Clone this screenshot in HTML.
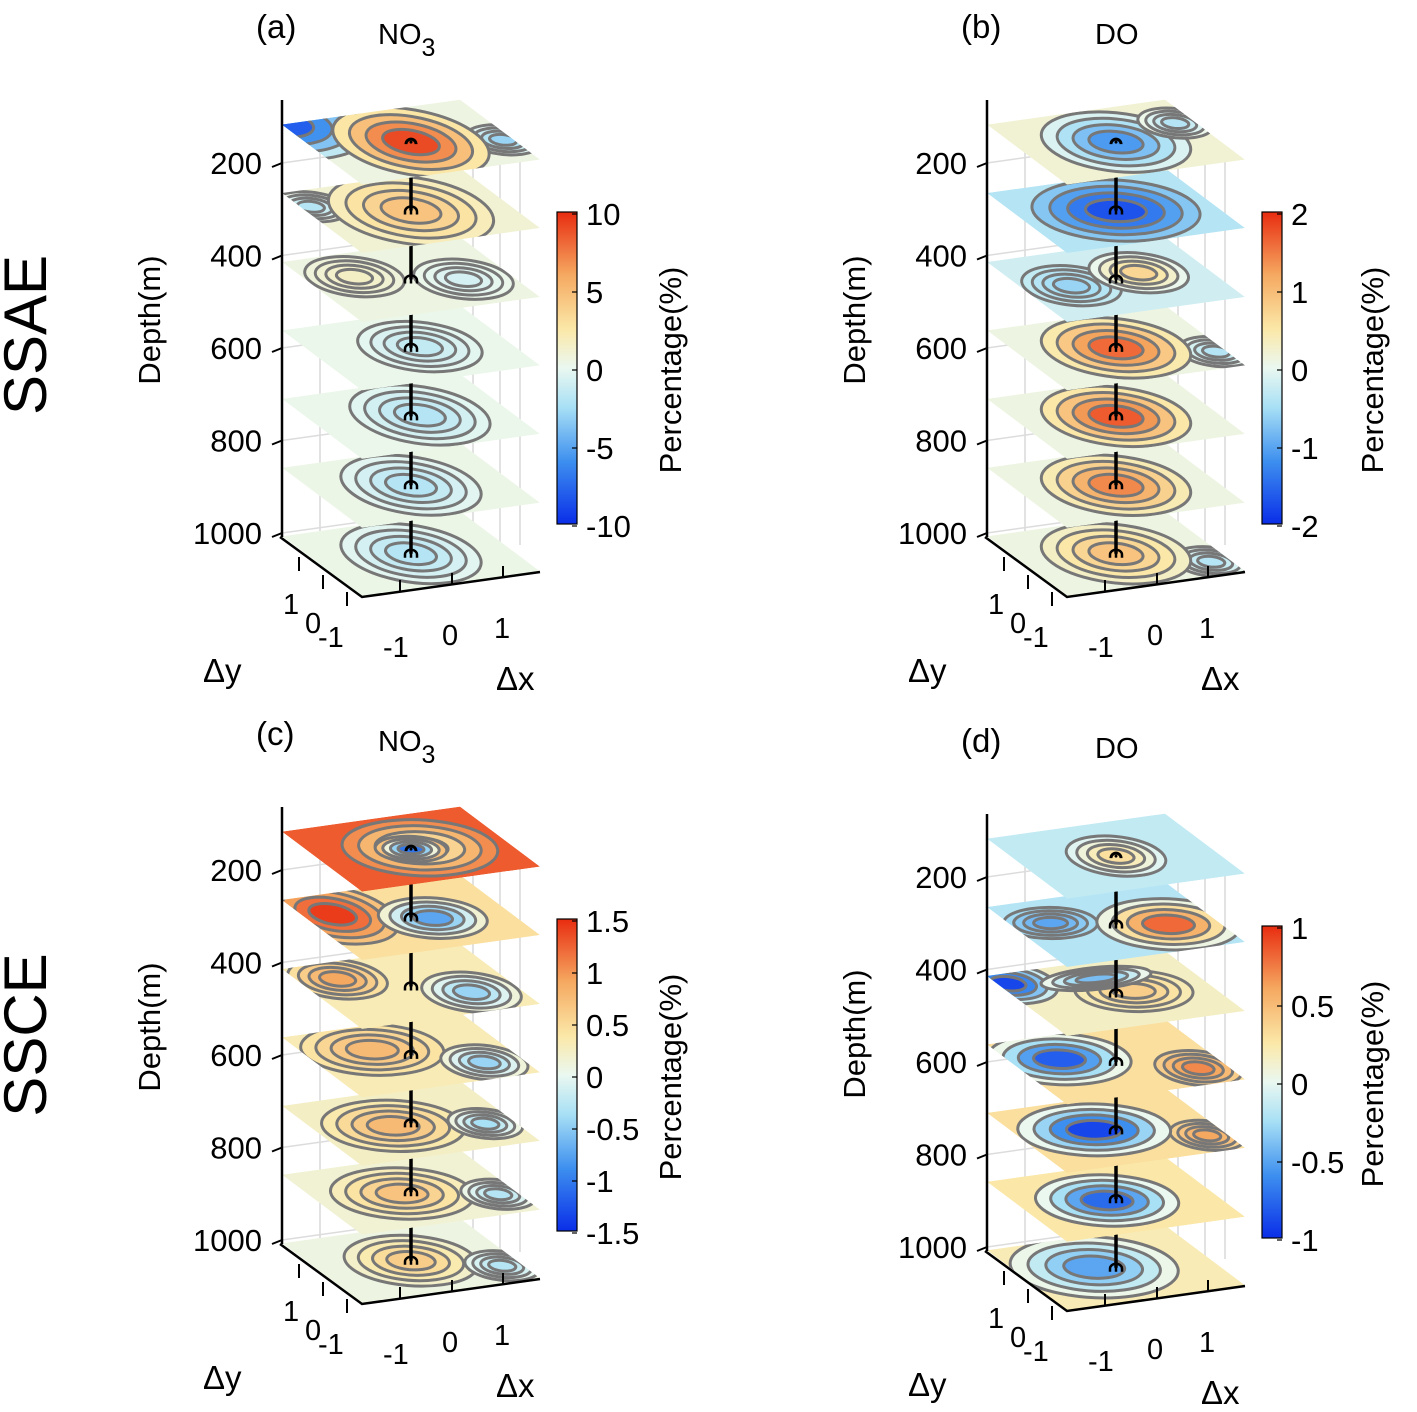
<!DOCTYPE html>
<html><head><meta charset="utf-8"><style>
html,body{margin:0;padding:0;background:#fff}
svg{display:block;font-family:"Liberation Sans",Arial,sans-serif}
</style></head><body>
<svg id="fig" width="1417" height="1412" viewBox="0 0 1417 1412" xmlns="http://www.w3.org/2000/svg">
<defs>
<linearGradient id="cbar" x1="0" y1="1" x2="0" y2="0">
<stop offset="0" stop-color="#0a2ee8"/><stop offset="0.2" stop-color="#3d8fef"/><stop offset="0.375" stop-color="#a8e0f5"/><stop offset="0.5" stop-color="#eaf8f0"/><stop offset="0.625" stop-color="#fbe8a8"/><stop offset="0.8" stop-color="#f5a860"/><stop offset="1" stop-color="#e82c10"/>
</linearGradient>
</defs>
<text x="30" y="335" font-size="60" text-anchor="middle" transform="rotate(-90 30 335)" dominant-baseline="middle">SSAE</text>
<text x="30" y="1035" font-size="60" text-anchor="middle" transform="rotate(-90 30 1035)" dominant-baseline="middle">SSCE</text>
</svg>
<script>
// ---- data ----
const panelLetters = ["(a)","(b)","(c)","(d)"];
const panelVars = ["NO3","DO","NO3","DO"];
const depthTicks = [200,400,600,800,1000];
const sliceDepths = [118,266,415,563,711,860,1008];
const cbarTicksA = ["10","5","0","-5","-10"];
const cbarTicksB = ["2","1","0","-1","-2"];
const cbarTicksC = ["1.5","1","0.5","0","-0.5","-1","-1.5"];
const cbarTicksD = ["1","0.5","0","-0.5","-1"];
// slice background values (normalised -1..1)
const bgA = [0.05,0.1,0.05,0.02,0.02,0.03,0.03];
const bgB = [0.1,-0.2,-0.1,0.05,0.05,0.05,0.05];
const bgC = [0.85,0.3,0.2,0.2,0.15,0.1,0.05];
const bgD = [-0.15,-0.2,0.15,0.3,0.3,0.25,0.2];
// blobs per slice: [u, v, ru, rv, peak]
const blobsA = [
 [[-1,1,0.7,0.7,-0.8],[0.9,-0.3,0.3,0.3,-0.3],[0,0,0.6,0.7,0.9]],
 [[-0.9,0.5,0.3,0.3,-0.2],[0,0,0.65,0.7,0.45]],
 [[-0.5,0.3,0.4,0.4,0.15],[0.5,-0.2,0.4,0.4,-0.08]],
 [[0.1,0,0.5,0.5,-0.15]],
 [[0.1,0,0.55,0.6,-0.2]],
 [[0,0,0.55,0.6,-0.2]],
 [[0,0,0.55,0.6,-0.2]]];
const blobsB = [
 [[0,0,0.6,0.6,-0.55],[0.8,0.3,0.3,0.3,-0.2]],
 [[0,0,0.7,0.6,-0.85]],
 [[-0.5,0,0.4,0.4,-0.3],[0.3,0.1,0.4,0.4,0.35]],
 [[0.9,-0.5,0.3,0.3,-0.2],[0,0,0.6,0.6,0.8]],
 [[0,0,0.6,0.6,0.85]],
 [[0,0,0.6,0.6,0.7]],
 [[0.8,-0.6,0.3,0.3,-0.2],[0,0,0.6,0.6,0.45]]];
const blobsC = [
 [[0.1,0,0.65,0.55,0.2],[0,0,0.3,0.25,-0.7]],
 [[-0.7,0.4,0.5,0.6,0.95],[0.2,-0.1,0.45,0.4,-0.5]],
 [[-0.6,0.5,0.4,0.4,0.6],[0.5,-0.4,0.4,0.4,-0.3]],
 [[-0.3,0.3,0.6,0.5,0.5],[0.6,-0.5,0.35,0.35,-0.3]],
 [[-0.2,0,0.6,0.5,0.5],[0.7,-0.3,0.3,0.3,-0.25]],
 [[-0.1,0,0.6,0.5,0.45],[0.8,-0.4,0.3,0.3,-0.2]],
 [[0,0,0.55,0.5,0.4],[0.8,-0.5,0.3,0.3,-0.2]]];
const blobsD = [
 [[0,0,0.4,0.4,0.3]],
 [[-0.6,0.3,0.4,0.3,-0.5],[0.5,-0.2,0.6,0.5,0.8]],
 [[-0.9,0.7,0.4,0.4,-0.9],[0.2,0,0.5,0.4,0.4],[0,0.5,0.5,0.2,-0.4]],
 [[0.7,-0.5,0.35,0.35,0.7],[-0.5,0.3,0.6,0.5,-0.8]],
 [[0.8,-0.5,0.3,0.3,0.6],[-0.2,0.1,0.65,0.5,-0.9]],
 [[-0.1,0,0.6,0.5,-0.75]],
 [[-0.2,0.1,0.7,0.6,-0.5]]];

const panelBg = [bgA,bgB,bgC,bgD];
const panelBlobs = [blobsA,blobsB,blobsC,blobsD];
const panelCbar = [cbarTicksA,cbarTicksB,cbarTicksC,cbarTicksD];
const offsets = [[0,0],[705,0],[0,707],[705,714]];

const NS="http://www.w3.org/2000/svg";
const svg=document.getElementById('fig');
function mk(tag,attrs,parent){const e=document.createElementNS(NS,tag);for(const k in attrs)e.setAttribute(k,attrs[k]);(parent||svg).appendChild(e);return e;}
const stops=[[-1,[10,46,232]],[-0.6,[61,143,239]],[-0.25,[168,224,245]],[0,[234,248,240]],[0.25,[251,232,168]],[0.6,[245,168,96]],[1,[232,44,16]]];
function cmap(t){t=Math.max(-1,Math.min(1,t));for(let i=0;i<stops.length-1;i++){const a=stops[i],b=stops[i+1];if(t<=b[0]){const f=(t-a[0])/(b[0]-a[0]);const c=a[1].map((v,j)=>Math.round(v+(b[1][j]-v)*f));return `rgb(${c})`;}}return 'rgb(232,44,16)';}
function yDepth(d){return 163+(d-200)*0.4625;}
const AX=[89,-12.5], BX=[-40,-30];

offsets.forEach((off,p)=>{
 const g=mk('g',{transform:`translate(${off[0]},${off[1]})`});
 
 
 [320,473,500,520].forEach(x=>{const l=mk('line',{x1:x,y1:150,x2:x,y2:545,stroke:'#d8d8d8','stroke-width':1.5},g);});
 depthTicks.forEach(d=>{const y=yDepth(d);const l=mk('line',{x1:282,y1:y,x2:460,y2:y-25,stroke:'#dcdcdc','stroke-width':1.5},g);});
 for(let i=sliceDepths.length-1;i>=0;i--){
  const cy=yDepth(sliceDepths[i])+17, cx=411;
  const sg=mk('g',{},g);
  
  
  const cid=`clip${p}_${i}`;
  const cp=mk('clipPath',{id:cid},sg);
  mk('rect',{x:-1,y:-1,width:2,height:2},cp);
  const tg=mk('g',{transform:`matrix(${AX[0]},${AX[1]},${BX[0]},${BX[1]},${cx},${cy})`},sg);
  const inner=mk('g',{'clip-path':`url(#${cid})`},tg);
  const bg=panelBg[p][i];
  mk('rect',{x:-1,y:-1,width:2,height:2,fill:cmap(bg)},inner);
  panelBlobs[p][i].forEach(b=>{
   const n=4;
   for(let k=0;k<n;k++){
    const s=1-k/n*0.85;
    const e=mk('ellipse',{cx:b[0],cy:b[1],rx:b[2]*1.2*s,ry:b[3]*1.6*s,fill:cmap(bg+(b[4]-bg)*(k+1)/n),stroke:'#777','stroke-width':3,'vector-effect':'non-scaling-stroke'},inner);
    
    
   }
  });
  if(i===0){
   mk('path',{d:`M${cx-5},${cy+2} a5,5 0 0 1 10,0`,fill:'none',stroke:'#000','stroke-width':3},sg);
   mk('circle',{cx:cx,cy:cy,r:1.5,fill:'#000'},sg);
  } else {
   mk('line',{x1:cx,y1:cy,x2:cx,y2:cy-36,stroke:'#000','stroke-width':3.5},sg);
   mk('path',{d:`M${cx-6},${cy+4} v-3 a6,5 0 0 1 12,0 v3 M${cx},${cy-3} v7`,fill:'none',stroke:'#000','stroke-width':2.5},sg);
  }
 }
 mk('line',{x1:282,y1:100,x2:282,y2:537,stroke:'#000','stroke-width':2.5},g);
 mk('polyline',{points:'280,537 362,597 540,572',fill:'none',stroke:'#000','stroke-width':2.5},g);
 depthTicks.forEach(d=>{const y=yDepth(d);mk('line',{x1:272,y1:y+4,x2:282,y2:y,stroke:'#000','stroke-width':2},g);
  const t=mk('text',{x:262,y:y+11,'font-size':31,'text-anchor':'end'},g);t.textContent=d;});
 [[299,557],[323,575],[347,592]].forEach(q=>mk('line',{x1:q[0],y1:q[1],x2:q[0],y2:q[1]+14,stroke:'#000','stroke-width':2},g));
 [[400,592],[452,585],[503,578]].forEach(q=>mk('line',{x1:q[0],y1:q[1],x2:q[0],y2:q[1]-12,stroke:'#000','stroke-width':2},g));
 [["1",283,614],["0",305,633],["-1",318,647],["-1",383,657],["0",442,645],["1",494,638]].forEach(q=>{const t=mk('text',{x:q[1],y:q[2],'font-size':29},g);t.textContent=q[0];});
 let t=mk('text',{x:203,y:682,'font-size':33},g);t.textContent='Δy';
 t=mk('text',{x:496,y:690,'font-size':33},g);t.textContent='Δx';
 t=mk('text',{x:152,y:320,'font-size':31,'text-anchor':'middle',transform:'rotate(-90 152 320)','dominant-baseline':'middle'},g);t.textContent='Depth(m)';
 t=mk('text',{x:256,y:38,'font-size':33},g);t.textContent=panelLetters[p];
 t=mk('text',{x:p%2?390:378,y:44,'font-size':29},g);
 if(panelVars[p]==='NO3'){t.textContent='NO';const s=mk('tspan',{dy:12,'font-size':25},t);s.textContent='3';}else t.textContent='DO';
 
 const cb=mk('rect',{x:557,y:212,width:20,height:312,fill:'url(#cbar)',stroke:'#000','stroke-width':1.2},g);
 
 const ticks=panelCbar[p];
 ticks.forEach((lab,k)=>{const y=214+k*(312/(ticks.length-1));
  mk('line',{x1:572,y1:y,x2:577,y2:y,stroke:'#000','stroke-width':1.2},g);
  const tt=mk('text',{x:586,y:y+11,'font-size':31},g);tt.textContent=lab;});
 const px=p%2?670:673;
 t=mk('text',{x:px,y:370,'font-size':31,'text-anchor':'middle',transform:`rotate(-90 ${px} 370)`,'dominant-baseline':'middle'},g);t.textContent='Percentage(%)';
});
</script>
</body></html>
